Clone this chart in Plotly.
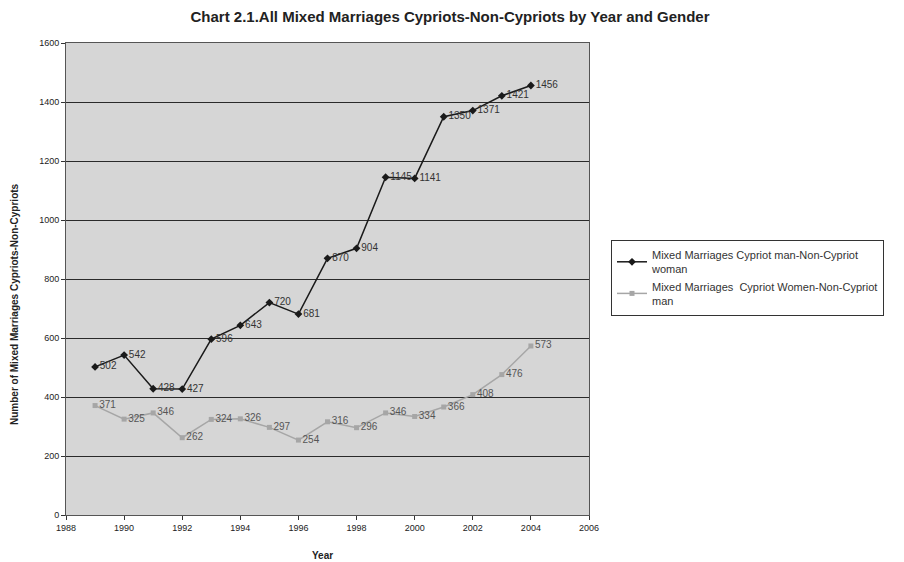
import plotly.graph_objects as go

years = [1989, 1990, 1991, 1992, 1993, 1994, 1995, 1996, 1997, 1998, 1999, 2000, 2001, 2002, 2003, 2004]
men_values = [502, 542, 428, 427, 596, 643, 720, 681, 870, 904, 1145, 1141, 1350, 1371, 1421, 1456]
women_values = [371, 325, 346, 262, 324, 326, 297, 254, 316, 296, 346, 334, 366, 408, 476, 573]
x_ticks = [1988, 1990, 1992, 1994, 1996, 1998, 2000, 2002, 2004, 2006]
y_ticks = [0, 200, 400, 600, 800, 1000, 1200, 1400, 1600]

FONT = "Liberation Sans, Arial, sans-serif"
W, H = 904, 562
L, R, T, B = 58, 323, 35, 55
PW, PH = W - L - R, H - T - B

fig = go.Figure()
fig.add_trace(go.Scatter(
    x=years, y=men_values, mode="lines+markers+text",
    name="Mixed Marriages Cypriot man-Non-Cypriot<br>woman",
    line=dict(color="#1a1a1a", width=1.5),
    marker=dict(symbol="diamond", size=6, color="#1a1a1a"),
    text=[str(v) for v in men_values], textposition="middle right",
    textfont=dict(family=FONT, size=10, color="#333333"),
))
fig.add_trace(go.Scatter(
    x=years, y=women_values, mode="lines+markers+text",
    name="Mixed Marriages  Cypriot Women-Non-Cypriot<br>man",
    line=dict(color="#a6a6a6", width=1.5),
    marker=dict(symbol="square", size=5, color="#a6a6a6"),
    text=[str(v) for v in women_values], textposition="middle right",
    textfont=dict(family=FONT, size=10, color="#555555"),
))

fig.update_layout(
    width=W, height=H,
    margin=dict(l=L, r=R, t=T, b=B, autoexpand=False),
    paper_bgcolor="white", plot_bgcolor="#d6d6d6",
    font=dict(family=FONT, size=9, color="#222222"),
    title=dict(text="<b>Chart 2.1.All Mixed Marriages Cypriots-Non-Cypriots by Year and Gender</b>",
               x=(450 - 8) / W, xanchor="center", y=1 - (17 - 8) / H, yanchor="middle",
               font=dict(family=FONT, size=15, color="#222222")),
    showlegend=True,
    legend=dict(x=(603 - L) / PW, y=1 - (232 - T) / PH, xanchor="left", yanchor="top",
                bgcolor="white", bordercolor="#333333", borderwidth=1,
                font=dict(family=FONT, size=11, color="#333333"),
                tracegroupgap=0, itemwidth=30),
    annotations=[
        dict(text="<b>Number of Mixed Marriages Cypriots-Non-Cypriots</b>", textangle=-90,
             xref="paper", yref="paper", x=(14 - 8 - L) / PW, y=1 - (304 - 8 - T) / PH,
             xanchor="center", yanchor="middle", showarrow=False,
             font=dict(family=FONT, size=10, color="#222222")),
        dict(text="<b>Year</b>", xref="paper", yref="paper",
             x=(322 - 8 - L) / PW, y=1 - (555 - 8 - T) / PH,
             xanchor="center", yanchor="middle", showarrow=False,
             font=dict(family=FONT, size=10, color="#222222")),
    ],
)
fig.update_xaxes(range=[1988, 2006], tickvals=x_ticks, ticktext=[str(t) for t in x_ticks],
                 showgrid=False, zeroline=False, showline=True, linecolor="#555555", linewidth=1,
                 mirror=True, ticks="outside", ticklen=4, tickcolor="#333333", automargin=False)
fig.update_yaxes(range=[0, 1600], tickvals=y_ticks, showgrid=True, gridcolor="#2a2a2a", gridwidth=1.2,
                 zeroline=False, showline=True, linecolor="#555555", linewidth=1, mirror=True,
                 ticks="outside", ticklen=4, tickcolor="#333333", automargin=False)

fig.write_html("out.html")
